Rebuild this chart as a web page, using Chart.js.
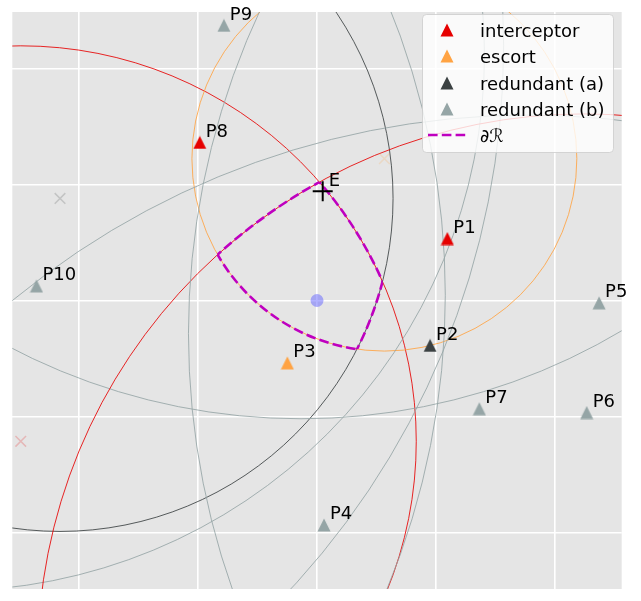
<!DOCTYPE html>
<html><head><meta charset="utf-8">
<script src="https://cdn.jsdelivr.net/npm/chart.js@4"></script>
<style>html,body{margin:0;padding:0;background:#fff}#wrap{width:641px;height:601px;position:relative}</style>
</head><body><div id="wrap"><canvas id="c"></canvas></div>
<script>
// ---- data ----
const roles = ['interceptor', 'escort', 'redundant (a)', 'redundant (b)'];
const roleColors = ['#e60000', '#ffa343', '#3b4142', '#95a5a6'];
const pointNames = ['P1', 'P2', 'P3', 'P4', 'P5', 'P6', 'P7', 'P8', 'P9', 'P10'];
const pointRole  = [0, 2, 1, 3, 3, 3, 3, 0, 3, 3];
const pointX = [1.095, 0.950, -0.249, 0.059, 2.370, 2.266, 1.364, -0.985, -0.782, -2.357];
const pointY = [0.534, -0.387, -0.538, -1.935, -0.020, -0.966, -0.933, 1.363, 2.372, 0.126];
// one circle per point (centre marked with a faint x)
const circleX = [-2.489, -2.159, 0.566, -0.134, -5.386, -5.150, -3.100, 2.239, 1.777, 5.357];
const circleY = [-1.214, 0.880, 1.223, 4.398, 0.045, 2.195, 2.120, -3.098, -5.391, -0.286];
const circleR = [3.323, 2.798, 1.617, 5.280, 6.464, 6.718, 4.507, 4.587, 6.812, 6.437];
const evaderX = [0], evaderY = [0];
const exitName = ['E'], exitX = [0.048], exitY = [0.941];
const boundaryLabel = '\u2202\u211B';
const xTicks = [-2, -1, 0, 1, 2];
const yTicks = [-2, -1, 0, 1, 2];
const xRange = [-2.56, 2.56];
const yRange = [-2.487, 2.487];

// ---- helpers ----
const fade = (hex, a) => { const n = parseInt(hex.slice(1), 16); return `rgba(${n >> 16},${(n >> 8) & 255},${n & 255},${a})`; };
function tri(color) {
  const c = document.createElement('canvas'); c.width = 14; c.height = 14;
  const g = c.getContext('2d'); g.fillStyle = color; g.beginPath();
  g.moveTo(7, 0.5); g.lineTo(13.5, 13.5); g.lineTo(0.5, 13.5); g.closePath(); g.fill();
  return c;
}
const triImgs = roleColors.map(tri);
const FONT = '18px "DejaVu Sans"';

const datasets = [
  { label: 'E', data: exitX.map((x, i) => ({ x, y: exitY[i] })), pointStyle: 'cross', pointRadius: 10,
    borderColor: '#000', borderWidth: 2 },
  ...roles.map((role, r) => ({
    label: role,
    data: pointNames.map((n, i) => ({ x: pointX[i], y: pointY[i], r: pointRole[i] })).filter(p => p.r === r),
    pointStyle: triImgs[r], pointRadius: 7
  })),
  { label: 'evader', data: evaderX.map((x, i) => ({ x, y: evaderY[i] })), pointStyle: 'circle', pointRadius: 6.5,
    backgroundColor: 'rgba(100,100,255,0.5)', borderWidth: 0 },
  { label: 'centres', data: circleX.map((x, i) => ({ x, y: circleY[i] })), pointStyle: 'crossRot', pointRadius: 7.5,
    borderWidth: 1.5, borderColor: pointRole.map(r => fade(roleColors[r], 0.2)) }
];

const plotPlugin = {
  id: 'plot',
  beforeDraw(chart) {
    const { ctx, chartArea: a } = chart;
    ctx.save(); ctx.fillStyle = '#e5e5e5'; ctx.fillRect(a.left, a.top, a.width, a.height); ctx.restore();
  },
  beforeDatasetsDraw(chart) {
    const { ctx, chartArea: a, scales: { x, y } } = chart;
    const ppu = x.getPixelForValue(1) - x.getPixelForValue(0);
    const path = i => { ctx.beginPath(); ctx.arc(x.getPixelForValue(circleX[i]), y.getPixelForValue(circleY[i]), circleR[i] * ppu, 0, 2 * Math.PI); };
    ctx.save();
    ctx.beginPath(); ctx.rect(a.left, a.top, a.width, a.height); ctx.clip();
    ctx.lineWidth = 1;
    circleX.forEach((_, i) => { path(i); ctx.strokeStyle = fade(roleColors[pointRole[i]], 0.85); ctx.stroke(); });
    // boundary of the intersection of all discs
    ctx.setLineDash([9.6, 4.2]); ctx.lineWidth = 2.6; ctx.strokeStyle = '#bf00bf';
    circleX.forEach((_, i) => {
      ctx.save();
      circleX.forEach((__, j) => { if (j !== i) { path(j); ctx.clip(); } });
      path(i); ctx.stroke();
      ctx.restore();
    });
    ctx.restore();
  },
  afterDatasetsDraw(chart) {
    const { ctx, scales: { x, y } } = chart;
    ctx.save(); ctx.font = FONT; ctx.fillStyle = '#000'; ctx.textBaseline = 'alphabetic';
    pointNames.forEach((n, i) => ctx.fillText(n, x.getPixelForValue(pointX[i] + 0.05), y.getPixelForValue(pointY[i] + 0.05)));
    exitName.forEach((n, i) => ctx.fillText(n, x.getPixelForValue(exitX[i] + 0.05), y.getPixelForValue(exitY[i] + 0.05)));
    ctx.restore();
  },
  afterDraw(chart) {
    const { ctx } = chart;
    const L = 422, T = 14, W = 191, H = 138;
    ctx.save();
    ctx.beginPath(); ctx.roundRect(L + 0.5, T + 0.5, W, H, 4);
    ctx.fillStyle = 'rgba(255,255,255,0.8)'; ctx.fill();
    ctx.strokeStyle = 'rgba(204,204,204,0.8)'; ctx.lineWidth = 1; ctx.stroke();
    ctx.font = FONT; ctx.fillStyle = '#000'; ctx.textBaseline = 'alphabetic';
    const rows = [30, 56, 83, 109, 135];
    roles.forEach((r, k) => {
      ctx.drawImage(triImgs[k], 447 - 7, rows[k] - 7);
      ctx.fillText(r, 480, rows[k] + 6.5);
    });
    ctx.beginPath(); ctx.setLineDash([9.6, 4.2]); ctx.lineWidth = 2.6; ctx.strokeStyle = '#bf00bf';
    ctx.moveTo(428, rows[4]); ctx.lineTo(466, rows[4]); ctx.stroke();
    ctx.setLineDash([]);
    ctx.font = 'italic 18px "DejaVu Sans"';
    ctx.fillText(boundaryLabel, 480, rows[4] + 6.5);
    ctx.restore();
  }
};

const axis = (range, ticks) => ({
  type: 'linear', min: range[0], max: range[1],
  afterBuildTicks: s => { s.ticks = ticks.map(v => ({ value: v })); },
  ticks: { display: false },
  grid: { color: '#ffffff', lineWidth: 1.6, drawTicks: false },
  border: { display: false }
});

new Chart(document.getElementById('c'), {
  type: 'scatter',
  data: { datasets },
  options: {
    responsive: true, maintainAspectRatio: false, animation: false, events: [],
    layout: { padding: { left: 12.3, right: 19.3, top: 6, bottom: 1 } },
    plugins: { legend: { display: false }, tooltip: { enabled: false } },
    scales: { x: axis(xRange, xTicks), y: axis(yRange, yTicks) }
  },
  plugins: [plotPlugin]
});
</script></body></html>
